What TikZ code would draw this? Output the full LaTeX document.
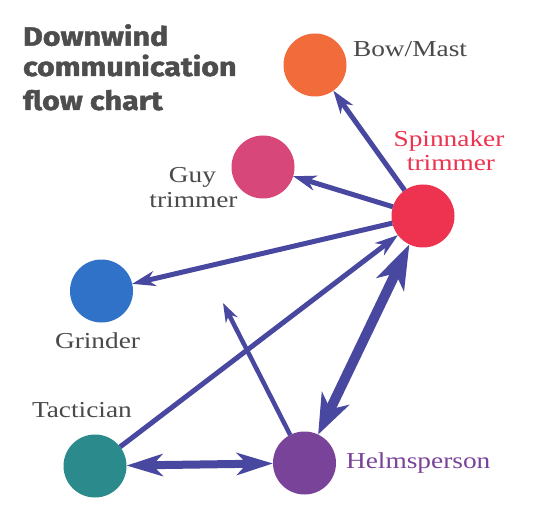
\documentclass[tikz,border=0pt]{standalone}
\usepackage{fontspec}
\setmainfont{Liberation Serif}[FakeStretch=1.2]
\newfontfamily\titlefont{Fira Sans}[FakeStretch=1.15, BoldFeatures={FakeBold=1.6}]
\usetikzlibrary{arrows.meta}
\definecolor{arrowc}{RGB}{72,72,160}
\definecolor{bowc}{HTML}{F26B3A}
\definecolor{guyc}{HTML}{D8477A}
\definecolor{spinc}{HTML}{EE3350}
\definecolor{grindc}{HTML}{2F72C8}
\definecolor{tactc}{HTML}{2B8A8C}
\definecolor{helmc}{HTML}{7A439A}
\definecolor{labc}{HTML}{4A4A4A}
\definecolor{titlec}{HTML}{4D4D4D}
\tikzset{
  dot/.style={circle, minimum size=63pt, inner sep=0pt, outer sep=0pt, draw=none},
  lab/.style={inner sep=0pt, outer sep=0pt, anchor=base west, text=labc, font=\fontsize{22.8}{24}\selectfont},
  labc/.style={lab, anchor=base},
  ttl/.style={inner sep=0pt, outer sep=0pt, anchor=base west, text=titlec, font=\titlefont\bfseries\fontsize{26.5}{28}\selectfont},
  arr/.style={draw=arrowc, line width=5pt, -{Stealth[length=23pt,width=15pt,inset=7pt]}},
  arrthin/.style={draw=arrowc, line width=4.5pt, -{Stealth[length=19pt,width=13pt,inset=6pt]}},
  arrthick/.style={draw=arrowc, line width=10pt, {Stealth[length=40pt,width=30pt,inset=12pt]}-{Stealth[length=44pt,width=30pt,inset=12pt]}},
  arrdbl/.style={draw=arrowc, line width=8pt, {Stealth[length=36pt,width=22pt,inset=10pt]}-{Stealth[length=36pt,width=22pt,inset=10pt]}}
}
\begin{document}
\begin{tikzpicture}[x=1pt, y=-1pt]
\useasboundingbox (0,0) rectangle (551,521);
\fill[white] (0,0) rectangle (551,521);
% title
\node[ttl] (t1) at (23,45.7) {Downwind};
\node[ttl] (t2) at (23,76) {communication};
\node[ttl] (t3) at (23,110) {flow chart};
% circles
\node[dot, fill=bowc] (bow) at (315,65) {};
\node[dot, fill=guyc] (guy) at (263,167) {};
\node[dot, fill=spinc] (spin) at (423,216) {};
\node[dot, fill=grindc] (grind) at (101.5,291) {};
\node[dot, fill=tactc] (tact) at (95,466) {};
\node[dot, fill=helmc] (helm) at (304.5,463) {};
\coordinate (free) at (223,303);
% labels
\node[lab] (lbow) at (353,57) {Bow/Mast};
\node[labc, text=spinc] (lspin1) at (449,147) {Spinnaker};
\node[labc, text=spinc] (lspin2) at (451,171) {trimmer};
\node[labc] (lguy1) at (192.5,183) {Guy};
\node[labc] (lguy2) at (193.5,208) {trimmer};
\node[lab] (lgrind) at (55,348) {Grinder};
\node[lab] (ltact) at (32,417) {Tactician};
\node[lab, text=helmc] (lhelm) at (346,468) {Helmsperson};
% connectors
\draw[arr] (spin) -- (bow);
\draw[arr] (spin) -- (guy);
\draw[arr] (spin) -- (grind);
\draw[arr] (tact) -- (spin);
\draw[arrthin] (helm) -- (free);
\draw[arrthick] (helm) -- (spin);
\draw[arrdbl] (tact) -- (helm);
\end{tikzpicture}
\end{document}
